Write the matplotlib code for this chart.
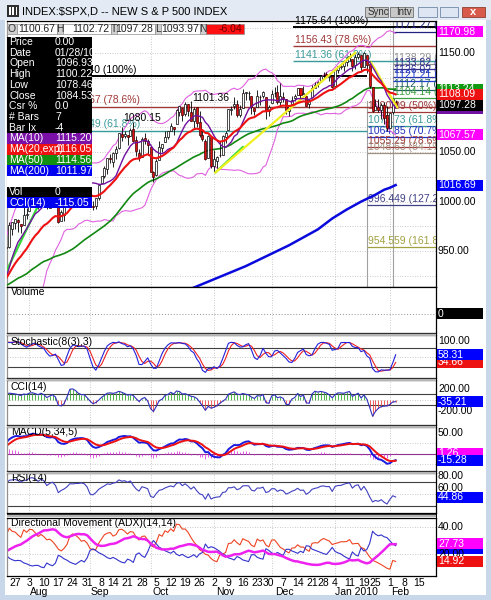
import numpy as np
import pandas as pd
import matplotlib
matplotlib.use("Agg")
import matplotlib.pyplot as plt
from matplotlib.patches import Rectangle

plt.rcParams["font.family"] = ["Liberation Sans", "DejaVu Sans"]

W, H = 491, 600

# S&P 500 daily bars, May 1 2009 .. Feb 3 2010
# first 59 bars (May 1 .. Jul 24) only warm up the indicators, x = 0 is Jul 27
opens = [
    872.7, 879.2, 906.1, 903.9, 919.6, 909.0, 922.9, 910.5, 905.4, 884.2, 892.8, 886.1, 909.7, 908.6, 900.4, 888.7, 887.0, 909.9, 892.9, 907.0,
    923.3, 942.9, 942.5, 932.5, 945.7, 938.1, 940.4, 942.7, 939.0, 943.4, 942.5, 925.6, 911.9, 910.9, 920.0, 918.1, 893.5, 896.3, 899.5, 918.8, 919.9, 927.2,
    920.8, 921.2, 894.3, 898.6, 881.9, 881.3, 880.0, 879.6, 900.8, 910.2, 930.2, 940.6, 942.1, 952.0, 953.4, 954.1, 972.2,
    978.6, 981.5, 977.7, 976.0, 986.8,
    990.2, 1001.4, 1005.4, 1004.1, 999.8, 1008.9, 1005.8, 994.0, 1005.9, 1012.2, 998.2, 980.6, 986.9, 996.4, 1009.1, 1026.6, 1026.6, 1027.4, 1027.8, 1031.6, 1025.2,
    1019.5, 996.1, 996.1, 1003.8, 1018.7, 1025.4, 1033.0, 1043.9, 1040.2, 1049.0, 1054.0, 1067.9, 1066.6, 1067.1, 1066.4, 1072.7, 1062.6, 1049.5, 1045.4, 1063.7, 1061.0,
    1054.9, 1029.7, 1026.9, 1042.0, 1053.7, 1060.0, 1065.3, 1071.6, 1075.0, 1078.7, 1090.4, 1094.7, 1088.2, 1098.6, 1090.4, 1081.0, 1095.6, 1080.4, 1067.5, 1061.5, 1043.7, 1065.4,
    1036.2, 1040.9, 1047.3, 1047.3, 1065.0, 1072.3, 1091.9, 1096.0, 1098.3, 1087.6, 1094.1, 1109.2, 1109.4, 1106.4, 1094.7, 1094.9, 1105.8, 1106.5, 1105.5, 1091.1,
    1098.9, 1109.0, 1110.6, 1100.4, 1105.5, 1103.0, 1091.1, 1098.7, 1104.0, 1107.8, 1114.1, 1108.6, 1106.4, 1097.9, 1105.3, 1114.5, 1118.8, 1121.1, 1127.5, 1128.6, 1125.5, 1126.6,
    1116.6, 1132.7, 1135.7, 1136.3, 1140.5, 1146.0, 1143.8, 1137.3, 1145.7, 1147.7, 1136.0, 1147.5, 1138.7, 1115.5, 1092.4, 1095.8, 1091.9, 1096.93, 1087.6,
    1073.9, 1090.1, 1100.67,
]
highs = [
    880.5, 907.9, 907.7, 920.3, 929.6, 930.2, 922.9, 915.6, 905.4, 898.4, 896.9, 910.0, 916.4, 924.6, 900.4, 896.7, 911.8, 913.8, 909.5, 920.0,
    947.8, 949.4, 942.5, 942.5, 951.7, 946.3, 946.9, 949.8, 956.2, 946.3, 942.5, 928.0, 918.4, 922.0, 927.1, 918.1, 898.7, 910.9, 921.4, 922.0, 927.9, 930.0,
    931.9, 921.2, 898.7, 898.6, 886.8, 887.9, 883.6, 901.1, 905.8, 933.0, 943.0, 941.9, 951.6, 956.5, 959.8, 979.4, 979.8,
    982.5, 982.4, 977.8, 996.7, 993.2,
    1003.6, 1007.1, 1006.6, 1008.0, 1018.0, 1010.1, 1005.8, 1012.8, 1013.1, 1012.6, 998.2, 991.2, 999.6, 1008.9, 1027.6, 1035.8, 1037.8, 1032.5, 1033.3, 1039.5, 1025.2,
    1028.5, 1000.3, 1003.4, 1016.5, 1026.1, 1036.3, 1044.1, 1048.2, 1049.7, 1056.0, 1068.8, 1074.8, 1071.5, 1067.3, 1073.8, 1080.15, 1066.3, 1053.5, 1065.1, 1069.6, 1063.4,
    1054.9, 1030.6, 1042.6, 1060.6, 1058.0, 1070.7, 1071.5, 1079.5, 1075.3, 1093.2, 1096.6, 1094.7, 1100.2, 1098.6, 1101.36, 1095.2, 1095.8, 1091.8, 1072.5, 1063.3, 1066.8, 1065.4,
    1052.2, 1046.4, 1061.0, 1066.7, 1071.5, 1093.2, 1096.1, 1105.4, 1102.0, 1097.6, 1113.7, 1110.5, 1111.1, 1106.4, 1094.7, 1112.4, 1107.6, 1111.2, 1105.5, 1097.2,
    1112.3, 1115.6, 1117.3, 1119.1, 1110.7, 1103.0, 1097.0, 1106.3, 1108.5, 1114.8, 1114.1, 1116.2, 1106.4, 1103.7, 1117.7, 1120.3, 1121.6, 1126.5, 1130.4, 1130.4, 1126.4, 1127.6,
    1133.9, 1136.6, 1139.2, 1142.5, 1145.4, 1149.7, 1143.8, 1148.4, 1150.4, 1147.8, 1150.45, 1147.5, 1141.6, 1115.5, 1103.0, 1103.7, 1099.5, 1100.22, 1096.5,
    1089.4, 1104.7, 1102.72,
]
lows = [
    866.1, 879.2, 897.3, 903.9, 901.4, 909.0, 903.7, 896.5, 882.1, 882.5, 878.9, 886.1, 905.2, 901.4, 879.6, 883.8, 881.5, 891.9, 887.6, 903.6,
    923.3, 938.5, 923.9, 929.3, 934.1, 926.4, 936.1, 926.0, 939.0, 935.7, 919.7, 911.6, 903.8, 907.9, 915.8, 893.0, 888.9, 896.3, 896.3, 913.0, 916.2, 912.9,
    920.8, 896.4, 886.4, 879.9, 869.3, 878.5, 872.8, 875.3, 896.1, 910.2, 927.5, 934.4, 940.9, 945.1, 947.9, 953.3, 965.9,
    972.3, 969.8, 968.7, 976.0, 982.9,
    990.2, 996.7, 994.3, 992.5, 999.8, 1001.0, 992.4, 993.4, 1000.8, 994.6, 978.5, 980.6, 980.6, 996.4, 1009.1, 1022.5, 1026.2, 1021.6, 1016.2, 1023.1, 1014.6,
    996.3, 992.0, 992.3, 1001.7, 1018.7, 1024.0, 1028.0, 1039.4, 1035.0, 1043.4, 1052.9, 1061.0, 1064.3, 1057.5, 1066.4, 1060.4, 1045.9, 1041.2, 1045.4, 1057.8, 1046.5,
    1029.5, 1019.95, 1025.9, 1042.0, 1050.0, 1060.0, 1063.0, 1071.6, 1066.7, 1078.7, 1086.4, 1081.5, 1086.5, 1086.2, 1080.8, 1074.3, 1075.5, 1065.2, 1060.6, 1042.2, 1043.7, 1033.4,
    1029.4, 1033.9, 1045.2, 1047.3, 1059.3, 1072.3, 1087.7, 1093.5, 1084.9, 1085.3, 1094.1, 1102.2, 1102.7, 1088.4, 1086.8, 1094.9, 1097.6, 1104.8, 1083.7, 1086.3,
    1098.9, 1105.3, 1098.7, 1096.5, 1100.8, 1088.6, 1085.9, 1098.7, 1101.3, 1107.8, 1102.5, 1108.0, 1095.9, 1093.9, 1105.3, 1114.5, 1116.0, 1121.1, 1124.0, 1126.1, 1121.9, 1114.8,
    1116.6, 1129.7, 1133.9, 1131.3, 1136.2, 1142.0, 1131.8, 1133.2, 1143.8, 1131.4, 1135.8, 1129.3, 1114.8, 1090.2, 1092.4, 1089.9, 1083.1, 1078.46, 1071.59,
    1073.9, 1088.0, 1093.97,
]
closes = [
    877.5, 907.2, 903.8, 919.5, 907.4, 929.2, 909.2, 908.4, 883.9, 893.1, 882.9, 909.7, 908.1, 903.5, 888.3, 887.0, 910.3, 893.1, 906.8, 919.1,
    942.9, 944.7, 931.8, 942.5, 940.1, 939.1, 942.4, 939.2, 944.9, 946.2, 923.7, 912.0, 910.7, 918.4, 921.2, 893.0, 895.1, 900.9, 920.3, 918.9, 927.2, 919.3,
    923.3, 896.4, 898.7, 881.0, 879.6, 882.7, 879.1, 901.1, 905.8, 932.7, 940.7, 940.4, 951.1, 954.6, 954.1, 976.3, 979.3,
    982.2, 979.6, 975.2, 986.8, 987.5,
    1002.6, 1005.7, 1002.7, 997.1, 1010.5, 1007.1, 994.4, 1005.8, 1012.7, 1004.1, 979.7, 989.7, 996.5, 1007.4, 1026.1, 1025.6, 1028.0, 1028.1, 1031.0, 1028.9, 1020.6,
    998.0, 994.8, 1003.2, 1016.4, 1025.4, 1033.4, 1044.1, 1042.7, 1049.3, 1052.6, 1068.8, 1065.5, 1068.3, 1064.7, 1071.7, 1060.9, 1050.8, 1044.4, 1063.0, 1060.6, 1057.1,
    1029.9, 1025.2, 1040.5, 1054.7, 1057.6, 1065.5, 1071.5, 1076.2, 1073.2, 1092.0, 1096.6, 1087.7, 1097.9, 1091.1, 1081.4, 1092.9, 1079.6, 1067.0, 1063.4, 1042.6, 1066.1, 1036.2,
    1042.9, 1045.4, 1046.5, 1066.6, 1069.3, 1093.1, 1093.0, 1098.5, 1087.2, 1093.5, 1109.3, 1110.3, 1109.8, 1094.9, 1091.4, 1106.2, 1105.7, 1110.6, 1091.5, 1095.6,
    1108.9, 1109.2, 1099.9, 1106.0, 1103.3, 1091.9, 1096.0, 1102.4, 1106.4, 1114.1, 1107.9, 1109.2, 1096.1, 1102.5, 1114.1, 1118.0, 1120.6, 1126.5, 1127.8, 1126.2, 1126.4, 1115.1,
    1133.0, 1136.5, 1137.1, 1141.7, 1145.0, 1147.0, 1136.2, 1145.7, 1148.5, 1136.0, 1150.2, 1138.0, 1116.5, 1091.8, 1096.8, 1092.2, 1097.5, 1084.53, 1073.87,
    1089.2, 1103.3, 1097.28,
]
warmup = 59

# 200 day average (bar index, value)
ma200_x = [60, 65, 70, 75, 80, 85, 90, 95, 100, 105, 110, 115, 120, 125, 128, 130, 132]
ma200_y = [911, 917, 923, 929, 935, 942, 949, 956, 964, 972, 983, 992, 1000, 1007, 1011.97, 1014, 1016.69]

# date axis
day_pos = [0, 5, 10, 15, 20, 25, 30, 34, 39, 44, 49, 54, 59, 64, 69, 74, 79, 84, 88, 93, 98, 103, 107, 111, 116, 121, 125, 130, 135, 140]
day_lbl = ["27", "3", "10", "17", "24", "31", "8", "14", "21", "28", "5", "12", "19", "26", "2", "9", "16", "23", "30",
           "7", "14", "21", "28", "4", "11", "19", "25", "1", "8", "15"]
month_lbl = ["Aug", "Sep", "Oct", "Nov", "Dec", "Jan 2010", "Feb"]
month_pos = [8.5, 29.5, 50.5, 73, 93.5, 118.5, 133.5]
month_start = [5, 26, 47, 69, 89, 111, 130]

# fibonacci levels (level, text, colour)
fib_top = [(1175.64, "1175.64 (100%)", "black"), (1156.43, "1156.43 (78.6%)", "#a03838"),
           (1141.36, "1141.36 (61.8%)", "#3a9a9a")]
fib_left = [(1126.40, "1126.40 (100%)", "black"), (1095.67, "1095.67 (78.6%)", "#a03838"),
            (1071.49, "1071.49 (61.8%)", "#3a9a9a")]
fib_right = [(1090.09, "1090.09 (50%)", "#a03838"), (1075.73, "1075.73 (61.8%)", "#3a9a9a"),
             (1064.85, "1064.85 (70.7%)", "#2030c0"), (1055.29, "1055.29 (78.6%)", "#a03838"),
             (1048.63, "1048.63 (84.1%)", "#a09080"), (996.449, "996.449 (127.2%)", "#404088"),
             (954.559, "954.559 (161.8%)", "#a0a040")]
fib_last = [(1171.27, "1171.27 (127.2%)", "#202080"), (1138.29, "1138.29 (88.6%)", "#909090"),
            (1133.82, "1133.82 (78.6%)", "#303090"), (1126.02, "1126.02 (70.7%)", "#303090"),
            (1121.21, "1121.21 (61.8%)", "#2040d0"), (1112.17, "1112.17 (50%)", "#206060"),
            (1104.14, "1104.14 (38.2%)", "#40a040")]

# drawn trend lines (x0, y0, x1, y1)
green_lines = [(-3, 930, 12, 1020), (69.5, 1029.4, 79, 1055)]
yellow_lines = [(69.5, 1029.4, 118, 1150), (123.5, 1140, 132.5, 1095)]

# ---------------- indicators
c = pd.Series(closes)
h = pd.Series(highs)
l = pd.Series(lows)
o = pd.Series(opens)
x = np.arange(len(c)) - warmup

ma10 = c.rolling(10).mean()
ema20 = c.ewm(span=20, adjust=False).mean()
ma50 = c.rolling(50).mean()
mid = c.rolling(20).mean()
sd = c.rolling(20).std(ddof=0)
bb_up, bb_lo = mid + 2 * sd, mid - 2 * sd

raw = 100 * (c - l.rolling(8).min()) / (h.rolling(8).max() - l.rolling(8).min())
stk = raw.rolling(3).mean()
std_ = stk.rolling(3).mean()

tp = (h + l + c) / 3
md = tp.rolling(14).apply(lambda a: np.abs(a - a.mean()).mean(), raw=True)
cci = (tp - tp.rolling(14).mean()) / (0.015 * md)

macd = c.ewm(span=5, adjust=False).mean() - c.ewm(span=34, adjust=False).mean()
sig = macd.ewm(span=5, adjust=False).mean()
hist = macd - sig

d = c.diff()
au = d.clip(lower=0).ewm(alpha=1 / 14, adjust=False).mean()
ad = (-d.clip(upper=0)).ewm(alpha=1 / 14, adjust=False).mean()
rsi = 100 - 100 / (1 + au / ad)

upm = h.diff()
dnm = -l.diff()
pdm = pd.Series(np.where((upm > dnm) & (upm > 0), upm, 0.0))
mdm = pd.Series(np.where((dnm > upm) & (dnm > 0), dnm, 0.0))
tr = pd.concat([h - l, (h - c.shift()).abs(), (l - c.shift()).abs()], axis=1).max(axis=1)
atr = tr.ewm(alpha=1 / 14, adjust=False).mean()
pdi = 100 * pdm.ewm(alpha=1 / 14, adjust=False).mean() / atr
mdi = 100 * mdm.ewm(alpha=1 / 14, adjust=False).mean() / atr
dx = 100 * (pdi - mdi).abs() / (pdi + mdi)
adx = dx.ewm(alpha=1 / 14, adjust=False).mean()

vis = x >= -4
xv = x[vis]

# ---------------- figure
fig = plt.figure(figsize=(W / 100, H / 100), dpi=100, facecolor="#c9d7ea")


def box(x0, y0, x1, y1, fc, ec="none", lw=0.8, z=5):
    fig.add_artist(Rectangle((x0 / W, 1 - y1 / H), (x1 - x0) / W, (y1 - y0) / H,
                             transform=fig.transFigure, fc=fc, ec=ec, lw=lw, zorder=z))


def txt(xp, yp, s, z=6, **kw):
    kw.setdefault("fontsize", 7.5)
    kw.setdefault("va", "center")
    fig.text(xp / W, 1 - yp / H, s, zorder=z, **kw)


box(5, 20, 486, 595, "white", z=-2)
box(0, 0, W, 20, "#e3eaf4", z=-1)


def panel(y0, y1, lo, hi):
    ax = fig.add_axes([7 / W, 1 - y1 / H, (436 - 7) / W, (y1 - y0) / H])
    ax.set_xlim(-2.8, 146)
    ax.set_ylim(lo, hi)
    ax.set_xticks([])
    ax.set_yticks([])
    for s in ax.spines.values():
        s.set_linewidth(0.9)
    ax.spines["left"].set_color("#909090")
    for m in month_start:
        ax.axvline(m, color="#b8b8b8", ls=(0, (1, 2)), lw=0.6, zorder=0)
    return ax


def hgrid(ax, levels):
    for v in levels:
        ax.axhline(v, color="#b8b8b8", ls=(0, (1, 2)), lw=0.6, zorder=0)


zc = [20]


def rlab(ax, v, s, bg=None, fg="white"):
    # each value box stacks on top of the earlier ones
    yp = H - ax.transData.transform((0, v))[1]
    zc[0] += 2
    if bg:
        box(437, yp - 5.5, 483, yp + 5.5, bg, z=zc[0])
        if s:
            txt(438, yp, s, z=zc[0] + 1, color=fg)
    else:
        txt(438, yp, s, z=zc[0] + 1, color="black")


# ---- price panel
ax = panel(21, 287, 914, 1182)
hgrid(ax, [925, 950, 975, 1000, 1025, 1050, 1075, 1100, 1125, 1150, 1175])
ax.axvline(122, ymin=0, ymax=0.7, color="#a0a0a0", lw=0.8, zorder=1)
ax.axvline(131, color="#a0a0a0", lw=0.8, zorder=1)

for lv, s, col in fib_top:
    ax.hlines(lv, 96.5, 146, color=col, lw=1.0 if col != "black" else 1.4, zorder=2)
    ax.text(97, lv + 1.5, s, color=col, fontsize=7.5, va="bottom", clip_on=False, zorder=2)
for i, (lv, s, col) in enumerate(fib_left):
    ax.hlines(lv, 17, 122 if i != 1 else 146, color=col, lw=1.0 if col != "black" else 1.4, zorder=2)
    ax.text(16.5, lv + 1.5, s, color=col, fontsize=7.5, va="bottom", clip_on=True, zorder=2)
for lv, s, col in fib_right:
    ax.hlines(lv, 122, 146, color=col, lw=0.9, zorder=2)
    ax.text(122.3, lv + 1.2, s, color=col, fontsize=7.5, va="bottom", clip_on=True, zorder=2)
for lv, s, col in fib_last:
    ax.hlines(lv, 131, 146, color=col, lw=0.9, zorder=2)
    ax.text(131.3, lv + 1.2, s, color=col, fontsize=7.5, va="bottom", clip_on=True, zorder=2)

ax.plot(xv, bb_up[vis], color="#e060e0", lw=0.8, zorder=3)
ax.plot(xv, bb_lo[vis], color="#e060e0", lw=0.8, zorder=3)
ax.plot(xv, ma50[vis], color="#118811", lw=1.2, zorder=3)
ax.plot(ma200_x, ma200_y, color="#0a0adc", lw=1.8, zorder=3)

ov, hv, lv_, cv = o[vis].values, h[vis].values, l[vis].values, c[vis].values
ax.vlines(xv, lv_, hv, color="black", lw=0.6, zorder=4)
up = cv >= ov
ax.bar(xv[up], (cv - ov)[up], bottom=ov[up], width=0.7, color="white", edgecolor="black", lw=0.5, zorder=5)
ax.bar(xv[~up], (ov - cv)[~up], bottom=cv[~up], width=0.7, color="#e01010", edgecolor="#400000", lw=0.5, zorder=5)

for x0, y0, x1, y1 in green_lines:
    ax.plot([x0, x1], [y0, y1], color="#33dd33", lw=1.6, zorder=6)
for x0, y0, x1, y1 in yellow_lines:
    ax.plot([x0, x1], [y0, y1], color="#f0f020", lw=1.6, zorder=6)
ax.plot(xv, ma10[vis], color="#7010a0", lw=1.0, zorder=6)
ax.plot(xv, ema20[vis], color="#ee1111", lw=1.5, zorder=6)

ax.text(37.5, 1084.5, "1080.15", fontsize=7.5, va="center", zorder=7)
ax.text(61.5, 1104, "1101.36", fontsize=7.5, va="center", zorder=7)

for v in [1150, 1050, 1000, 950]:
    rlab(ax, v, "%.2f" % v)
rlab(ax, 1170.98, "1170.98", "#ff00ff")
rlab(ax, 1113.24, "1113.24", "#119911")
rlab(ax, 1094.29, "", "#7010a0")
rlab(ax, 1108.09, "1108.09", "#ee1111")
rlab(ax, 1097.28, "1097.28", "black")
rlab(ax, 1067.57, "1067.57", "#ff00ff")
rlab(ax, 1016.69, "1016.69", "#0000ff")

# ---- volume
axv = panel(287, 333, 0, 1)
axv.axhline(0.42, color="#909090", ls=(0, (1, 2)), lw=0.7)
axv.text(-1.5, 0.82, "Volume", fontsize=7.5)
rlab(axv, 0.42, "0", "black")

# ---- stochastic
axs = panel(335, 378, -13, 119)
hgrid(axs, [50])
axs.axhline(80, color="#404040", lw=0.8)
axs.axhline(20, color="#404040", lw=0.8)
axs.plot(xv, std_[vis], color="#ee2222", lw=0.8)
axs.plot(xv, stk[vis], color="#2222dd", lw=0.8)
axs.text(-1.5, 97, "Stochastic(8(3),3)", fontsize=7.5, va="center")
rlab(axs, 100, "100.00")
rlab(axs, 34.66, "34.66", "#ee1111")
rlab(axs, 58.31, "58.31", "#0000ff")

# ---- CCI
axc = panel(380, 425, -458, 359)
hgrid(axc, [0])
axc.axhline(100, color="#404040", lw=0.8)
axc.axhline(-100, color="#404040", lw=0.8)
cv_ = cci[vis].values
axc.vlines(xv[cv_ > 0], 0, cv_[cv_ > 0], color="#33aa33", lw=0.6)
axc.vlines(xv[cv_ <= 0], 0, cv_[cv_ <= 0], color="#ee4444", lw=0.6)
axc.plot(xv, cv_, color="#3030c0", lw=0.8)
axc.text(-1.5, 240, "CCI(14)", fontsize=7.5, va="center")
rlab(axc, 200, "200.00")
rlab(axc, -200, "-200.00")
rlab(axc, -35.21, "-35.21", "#0000ff")

# ---- MACD
axm = panel(427, 471, -40.9, 63.6)
hgrid(axm, [25, -25])
axm.axhline(0, color="#903090", lw=0.8)
axm.vlines(xv, 0, hist[vis], color="#e040e0", lw=0.6)
axm.plot(xv, macd[vis], color="#1a1ae0", lw=1.4)
axm.plot(xv, sig[vis], color="#ee1111", lw=1.4)
axm.text(-1.5, 52, "MACD(5,34,5)", fontsize=7.5, va="center")
rlab(axm, 50, "50.00")
rlab(axm, 1.26, "1.26", "#ff00ff")
rlab(axm, -15.28, "-15.28", "#0000ff")

# ---- RSI
axr = panel(473, 513, 18.6, 84.3)
hgrid(axr, [50])
axr.axhline(70, color="#404040", lw=0.8)
axr.axhline(30, color="#404040", lw=0.8)
axr.plot(xv, rsi[vis], color="#4040c0", lw=0.8)
axr.text(-1.5, 76, "RSI(14)", fontsize=7.5, va="center")
rlab(axr, 80, "80.00")
rlab(axr, 60, "60.00")
rlab(axr, 44.86, "44.86", "#0000ff")

# ---- ADX
axa = panel(518, 576, 4.3, 46.4)
hgrid(axa, [20, 40])
axa.plot(xv, pdi[vis], color="#ee4422", lw=0.8)
axa.plot(xv, mdi[vis], color="#3333cc", lw=0.8)
axa.plot(xv, adx[vis], color="#ee22ee", lw=1.8)
axa.text(-1.5, 42.5, "Directional Movement (ADX)(14,14)", fontsize=7.5, va="center")
rlab(axa, 40, "40.00")
rlab(axa, 24.3, "", "#0000ff")
rlab(axa, 20, "20.00")
rlab(axa, 27.73, "27.73", "#ff00ff")
rlab(axa, 14.92, "14.92", "#ee1111")

# panel separators
for yb in [333, 378, 425, 471, 514]:
    box(7, yb, 436, yb + 2.5, "#b4b4b4", z=4)
    box(7, yb, 436, yb + 0.8, "#303030", z=4)
box(435.5, 21, 436.5, 577, "black", z=4)

# date axis
for p, s in zip(day_pos, day_lbl):
    xp = 7 + (p + 2.8) / 148.8 * 429
    txt(xp, 583, s, ha="center")
for p, s in zip(month_pos, month_lbl):
    xp = 7 + (p + 2.8) / 148.8 * 429
    txt(xp, 592, s, ha="center")

# left data window
rows = [("Price", "0.00", "black"), ("Date", "01/28/10", "black"), ("Open", "1096.93", "black"),
        ("High", "1100.22", "black"), ("Low", "1078.46", "black"), ("Close", "1084.53", "black"),
        ("Csr %", "0.0", "black"), ("# Bars", "7", "black"), ("Bar Ix", "-4", "black"),
        ("MA(10)", "1115.20", "#7a10a8"), ("MA(20,exp)", "1116.05", "#ee1111"),
        ("MA(50)", "1114.56", "#119011"), ("MA(200)", "1011.97", "#0000ee"),
        ("", "", "white"), ("Vol", "0", "black"), ("CCI(14)", "-115.05", "#0000ee")]
for i, (name, val, bg) in enumerate(rows):
    yc = 42 + 10.72 * i
    box(7, yc - 5.36, 92, yc + 5.36, bg, z=9)
    txt(9, yc, name, z=10, color="white")
    txt(55, yc, val, z=10, color="white")

# title bar
box(7, 5, 19, 17, "#303030", z=2)
for k in range(3):
    box(9 + 3.3 * k, 7, 10.5 + 3.3 * k, 15, "white", z=3)
txt(22, 11.5, "INDEX:$SPX,D -- NEW S & P 500 INDEX", fontsize=8)
for x0, x1, s in [(365, 388, "Sync"), (390, 413, "Intv")]:
    box(x0, 7, x1, 17, "#c8c8c8", ec="#707070", lw=0.6, z=2)
    txt((x0 + x1) / 2 + 2, 12, s, ha="center", fontsize=7, color="#303030")
for x0, x1 in [(418, 437), (440, 458)]:
    box(x0, 7, x1, 17, "#dde6f2", ec="#7088a8", lw=0.6, z=2)
box(462, 7, 485, 17, "#d85a4a", ec="#904030", lw=0.6, z=2)
txt(473.5, 12, "x", ha="center", fontsize=8, color="white", fontweight="bold")

# OHLC strip
cells = [(7, 17, "O", 17, 57, "1100.67"), (57, 63, "H", 63, 111, "1102.72"),
         (111, 117, "T", 117, 155, "1097.28"), (155, 161, "L", 161, 200, "1093.97")]
for a0, a1, k, b0, b1, v in cells:
    box(a0, 24, a1, 34, "#d0d0d0", ec="#909090", lw=0.5, z=9)
    txt((a0 + a1) / 2, 29, k, z=10, ha="center", color="#303030")
    box(b0, 24, b1, 34, "white", ec="#909090", lw=0.5, z=9)
    txt(b1 - 1.5, 29, v, z=10, ha="right", color="#202020")
box(200, 24, 206, 34, "#d0d0d0", ec="#909090", lw=0.5, z=9)
txt(203, 29, "N", z=10, ha="center", color="#303030")
box(206, 24, 244, 34, "#ff1010", ec="#909090", lw=0.5, z=9)
txt(242, 29, "-6.04", z=10, ha="right", color="#700000")

fig.savefig("out.png", dpi=100, facecolor=fig.get_facecolor())
